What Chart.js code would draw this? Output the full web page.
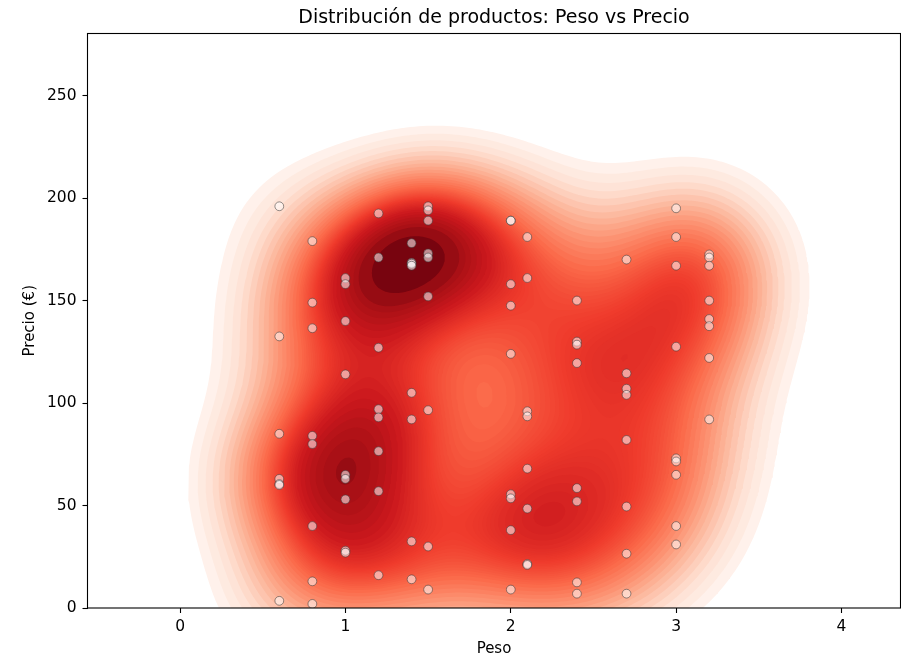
<!DOCTYPE html>
<html>
<head>
<meta charset="utf-8">
<style>
  body { margin: 0; background: #fff; }
  canvas { display: block; }
</style>
<script src="https://cdn.jsdelivr.net/npm/chart.js@4"></script>
</head>
<body>
<canvas id="grafico" width="901" height="658"></canvas>
<script>
//Values, one list of prices per weight
const pesos = [0.6, 0.8, 1, 1.2, 1.4, 1.5, 2, 2.1, 2.4, 2.7, 3, 3.2];
const precios06 = [196, 132.5, 85, 63, 60.5, 60, 3.5];
const precios08 = [179, 149, 136.5, 84, 80, 40, 13, 2];
const precios10 = [161, 158, 140, 114, 65, 63, 53, 28, 27];
const precios12 = [192.5, 171, 127, 97, 93, 76.5, 57, 16];
const precios14 = [178, 168.5, 168, 167, 105, 92, 32.5, 14];
const precios15 = [196, 194, 189, 173, 171, 152, 96.5, 30, 9];
const precios20 = [189, 189, 158, 147.5, 124, 55.5, 53.5, 38, 9];
const precios21 = [181, 161, 96, 93.5, 68, 48.5, 21.5, 21];
const precios24 = [150, 130, 128.5, 119.5, 58.5, 52, 12.5, 7];
const precios27 = [170, 114.5, 107, 104, 82, 49.5, 26.5, 7];
const precios30 = [195, 181, 167, 127.5, 73, 71.5, 65, 40, 31];
const precios32 = [172.5, 171, 167, 150, 141, 137.5, 122, 92];
const preciosPorPeso = [precios06, precios08, precios10, precios12, precios14, precios15,
  precios20, precios21, precios24, precios27, precios30, precios32];

const xTicks = [0, 1, 2, 3, 4];
const yTicks = [0, 50, 100, 150, 200, 250];
const reds = ["#fff5f0", "#fee0d2", "#fcbba1", "#fc9272", "#fb6a4a", "#ef3b2c", "#cb181d", "#a50f15", "#67000d"];

const puntos = [];
pesos.forEach((peso, i) => {
  preciosPorPeso[i].forEach(precio => puntos.push({x: peso, y: precio}));
});

const NUM_LEVELS = 50;
const THRESH = 0.06;
const GRID = 200;
const CUT = 3;

//Colour of the Reds map at t between 0 and 1
const redsColor = t => {
  const pos = Math.min(t, 1) * (reds.length - 1);
  const i = Math.min(Math.floor(pos), reds.length - 2);
  const hex = s => [1, 3, 5].map(k => parseInt(s.substr(k, 2), 16));
  const a = hex(reds[i]), b = hex(reds[i + 1]);
  const c = a.map((v, k) => Math.round(v + (b[k] - v) * (pos - i)));
  return "rgb(" + c.join(",") + ")";
};

//The shaded area is the gaussian density of the points above (scott bandwidth)
const densidad = () => {
  const n = puntos.length;
  const mx = puntos.reduce((s, p) => s + p.x, 0) / n;
  const my = puntos.reduce((s, p) => s + p.y, 0) / n;
  let sxx = 0, syy = 0, sxy = 0;
  puntos.forEach(p => {
    sxx += (p.x - mx) * (p.x - mx);
    syy += (p.y - my) * (p.y - my);
    sxy += (p.x - mx) * (p.y - my);
  });
  const f2 = Math.pow(n, -1 / 3);
  sxx = sxx / (n - 1) * f2;
  syy = syy / (n - 1) * f2;
  sxy = sxy / (n - 1) * f2;
  const det = sxx * syy - sxy * sxy;
  const xs = [], ys = [];
  const xMin = Math.min(...pesos) - CUT * Math.sqrt(sxx);
  const xMax = Math.max(...pesos) + CUT * Math.sqrt(sxx);
  const yMin = Math.min(...puntos.map(p => p.y)) - CUT * Math.sqrt(syy);
  const yMax = Math.max(...puntos.map(p => p.y)) + CUT * Math.sqrt(syy);
  for (let i = 0; i < GRID; i++) {
    xs.push(xMin + (xMax - xMin) * i / (GRID - 1));
    ys.push(yMin + (yMax - yMin) * i / (GRID - 1));
  }
  const z = new Float64Array(GRID * GRID);
  for (let j = 0; j < GRID; j++) {
    for (let i = 0; i < GRID; i++) {
      let s = 0;
      for (const p of puntos) {
        const dx = xs[i] - p.x, dy = ys[j] - p.y;
        s += Math.exp(-0.5 * (syy * dx * dx - 2 * sxy * dx * dy + sxx * dy * dy) / det);
      }
      z[j * GRID + i] = s;
    }
  }
  return {xs, ys, z};
};

//Density values that hold the wanted share of the mass
const calcLevels = z => {
  const sorted = Array.from(z).sort((a, b) => b - a);
  const total = sorted.reduce((s, v) => s + v, 0);
  const levels = [];
  for (let k = 0; k < NUM_LEVELS; k++) {
    const target = (1 - (THRESH + (1 - THRESH) * k / (NUM_LEVELS - 1))) * total;
    let acc = 0, idx = 0;
    while (idx < sorted.length - 1 && acc + sorted[idx] < target) {
      acc += sorted[idx];
      idx++;
    }
    levels.push(sorted[idx]);
  }
  return levels;
};

//Marching squares: closed rings for one level, higher density on the left of the ring
const calcRings = ({xs, ys, z}, level) => {
  const at = (i, j) => z[j * GRID + i];
  const hEdge = (i, j) => 2 * (j * GRID + i);
  const vEdge = (i, j) => 2 * (j * GRID + i) + 1;
  const next = new Map();
  const edgePoint = id => {
    const k = Math.floor(id / 2);
    const i = k % GRID, j = Math.floor(k / GRID);
    const a = at(i, j);
    if (id % 2 == 0) {
      const t = (level - a) / (at(i + 1, j) - a);
      return {x: xs[i] + (xs[i + 1] - xs[i]) * t, y: ys[j]};
    }
    const t = (level - a) / (at(i, j + 1) - a);
    return {x: xs[i], y: ys[j] + (ys[j + 1] - ys[j]) * t};
  };
  for (let j = 0; j < GRID - 1; j++) {
    for (let i = 0; i < GRID - 1; i++) {
      const c = [at(i, j), at(i + 1, j), at(i + 1, j + 1), at(i, j + 1)];
      const e = [hEdge(i, j), vEdge(i + 1, j), hEdge(i, j + 1), vEdge(i, j)];
      const cross = [];
      for (let k = 0; k < 4; k++) {
        const hi = c[k] >= level, hi2 = c[(k + 1) % 4] >= level;
        if (hi != hi2) cross.push({edge: e[k], down: hi});
      }
      if (cross.length == 0) continue;
      const centerHigh = (c[0] + c[1] + c[2] + c[3]) / 4 >= level;
      cross.forEach((cr, k) => {
        if (!cr.down) return;
        const step = (cross.length == 2 || centerHigh) ? 1 : cross.length - 1;
        next.set(cr.edge, cross[(k + step) % cross.length].edge);
      });
    }
  }
  const rings = [];
  while (next.size > 0) {
    const start = next.keys().next().value;
    const ring = [];
    let id = start;
    while (next.has(id)) {
      ring.push(edgePoint(id));
      const nx = next.get(id);
      next.delete(id);
      id = nx;
    }
    let area = 0;
    ring.forEach((p, k) => {
      const q = ring[(k + 1) % ring.length];
      area += p.x * q.y - q.x * p.y;
    });
    rings.push({ring, area: area / 2});
  }
  return rings;
};

//Building the filled contour datasets, biggest ring painted first
const buildContours = () => {
  const grid = densidad();
  const levels = calcLevels(grid.z);
  const lo = levels[0], hi = levels[levels.length - 1];
  const bandColor = k => {
    if (k < 0) return "#ffffff";
    return redsColor(((levels[k] + levels[k + 1]) / 2 - lo) / (hi - lo));
  };
  const all = [];
  for (let k = 0; k < levels.length - 1; k++) {
    calcRings(grid, levels[k]).forEach(r => {
      all.push({data: r.ring, size: Math.abs(r.area), color: bandColor(r.area > 0 ? k : k - 1)});
    });
  }
  //datasets listed first are drawn last
  all.sort((a, b) => a.size - b.size);
  return all.map(r => ({
    data: r.data,
    showLine: true,
    fill: "shape",
    backgroundColor: r.color,
    borderWidth: 0,
    pointRadius: 0,
    tension: 0
  }));
};

const marco = {
  id: "marco",
  afterDraw(chart) {
    const {ctx, chartArea: a} = chart;
    ctx.save();
    ctx.strokeStyle = "#000";
    ctx.lineWidth = 1.1;
    ctx.strokeRect(a.left, a.top, a.right - a.left, a.bottom - a.top);
    ctx.restore();
  }
};

const tickFont = {family: "DejaVu Sans", size: 15.5};
const labelFont = {family: "DejaVu Sans", size: 15};

new Chart("grafico", {
  type: "scatter",
  data: {
    datasets: [{
      data: puntos,
      backgroundColor: "rgba(255,255,255,0.55)",
      borderColor: "rgba(60,60,60,0.55)",
      borderWidth: 1,
      pointRadius: 4.4
    }].concat(buildContours())
  },
  options: {
    responsive: false,
    devicePixelRatio: 1,
    animation: false,
    events: [],
    layout: {autoPadding: false, padding: {left: 0, right: 0.5, top: 0, bottom: 0}},
    plugins: {
      legend: {display: false},
      tooltip: {enabled: false},
      title: {
        display: true,
        text: "Distribución de productos: Peso vs Precio",
        color: "#000",
        fullSize: false,
        font: {family: "DejaVu Sans", size: 19, weight: "normal"},
        padding: {top: 6.6, bottom: 4.1}
      }
    },
    scales: {
      x: {
        min: -0.56,
        max: 4.357,
        afterBuildTicks: axis => { axis.ticks = xTicks.map(v => ({value: v})); },
        afterFit: axis => { axis.height = 50; },
        border: {display: false},
        grid: {drawOnChartArea: false, tickLength: 5, tickColor: "#000", tickWidth: 1.1},
        ticks: {color: "#000", font: tickFont, padding: 5, maxRotation: 0},
        title: {display: true, text: "Peso", color: "#000", font: labelFont, padding: {top: 4, bottom: 0}}
      },
      y: {
        min: 0,
        max: 280.3,
        afterBuildTicks: axis => { axis.ticks = yTicks.map(v => ({value: v})); },
        afterFit: axis => { axis.width = 87.5; },
        border: {display: false},
        grid: {drawOnChartArea: false, tickLength: 5, tickColor: "#000", tickWidth: 1.1},
        ticks: {color: "#000", font: tickFont, padding: 6},
        title: {display: true, text: "Precio (€)", color: "#000", font: labelFont, padding: {top: 21, bottom: 4}}
      }
    }
  },
  plugins: [marco]
});
</script>
</body>
</html>
